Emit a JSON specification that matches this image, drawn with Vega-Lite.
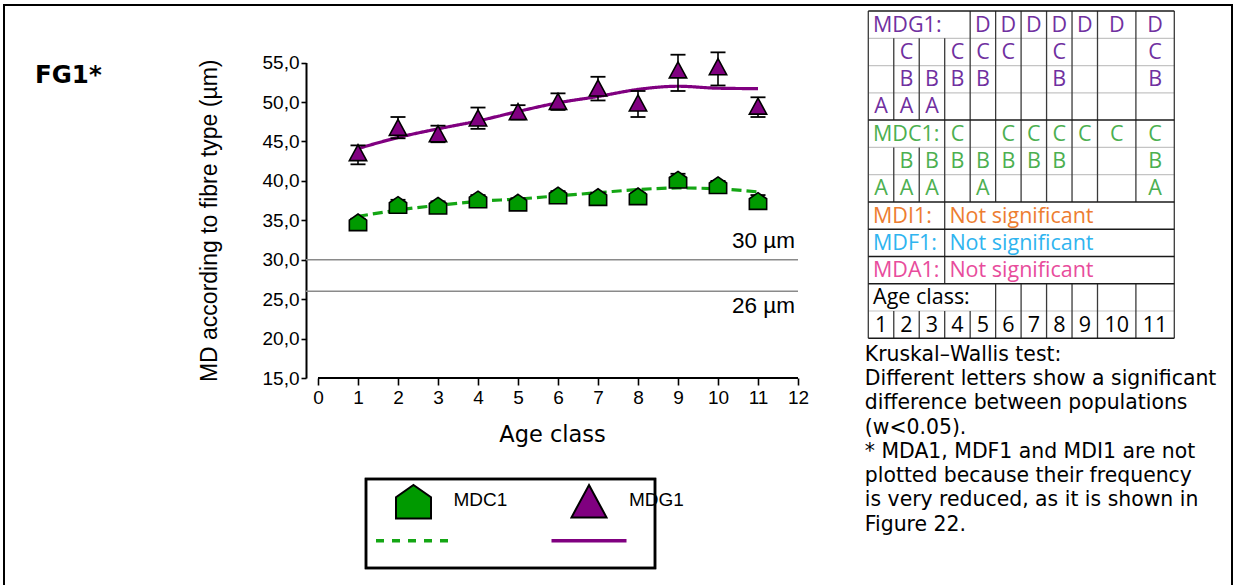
{
  "$schema": "https://vega.github.io/schema/vega-lite/v6.json",
  "width": 1228,
  "height": 582,
  "padding": {"left": 4, "top": 5, "right": 2, "bottom": 0},
  "autosize": {"type": "none"},
  "background": "white",
  "config": {
    "view": {"stroke": "black", "strokeWidth": 2},
    "font": "Liberation Sans",
    "axis": {"labelFont": "Liberation Sans", "titleFont": "Liberation Sans", "labelColor": "black", "titleColor": "black", "titleFontWeight": "normal", "grid": false}
  },
  "title": {
    "text": "FG1*",
    "anchor": "start",
    "frame": "group",
    "font": "DejaVu Sans",
    "fontWeight": "bold",
    "fontSize": 24.5,
    "color": "black",
    "baseline": "alphabetic",
    "offset": 0,
    "dx": 31,
    "dy": 102
  },
  "datasets": {
    "means": [
      {"sp": "MDG1", "age": 1, "md": 43.5, "lo": 42.1, "hi": 44.5},
      {"sp": "MDG1", "age": 2, "md": 46.7, "lo": 45.4, "hi": 48.1},
      {"sp": "MDG1", "age": 3, "md": 45.9, "lo": 44.9, "hi": 47.0},
      {"sp": "MDG1", "age": 4, "md": 47.9, "lo": 46.6, "hi": 49.3},
      {"sp": "MDG1", "age": 5, "md": 48.7, "lo": 47.8, "hi": 49.6},
      {"sp": "MDG1", "age": 6, "md": 50.0, "lo": 49.0, "hi": 51.1},
      {"sp": "MDG1", "age": 7, "md": 51.7, "lo": 50.2, "hi": 53.2},
      {"sp": "MDG1", "age": 8, "md": 49.8, "lo": 48.1, "hi": 51.4},
      {"sp": "MDG1", "age": 9, "md": 54.0, "lo": 51.4, "hi": 56.0},
      {"sp": "MDG1", "age": 10, "md": 54.4, "lo": 52.1, "hi": 56.3},
      {"sp": "MDG1", "age": 11, "md": 49.4, "lo": 48.1, "hi": 50.6},
      {"sp": "MDC1", "age": 1, "md": 34.7, "lo": 34.2, "hi": 35.2},
      {"sp": "MDC1", "age": 2, "md": 36.9, "lo": 36.3, "hi": 37.6},
      {"sp": "MDC1", "age": 3, "md": 36.8, "lo": 36.3, "hi": 37.4},
      {"sp": "MDC1", "age": 4, "md": 37.6, "lo": 37.0, "hi": 38.2},
      {"sp": "MDC1", "age": 5, "md": 37.2, "lo": 36.7, "hi": 37.8},
      {"sp": "MDC1", "age": 6, "md": 38.1, "lo": 37.5, "hi": 38.7},
      {"sp": "MDC1", "age": 7, "md": 37.9, "lo": 37.4, "hi": 38.5},
      {"sp": "MDC1", "age": 8, "md": 38.0, "lo": 37.5, "hi": 38.5},
      {"sp": "MDC1", "age": 9, "md": 40.1, "lo": 39.3, "hi": 40.9},
      {"sp": "MDC1", "age": 10, "md": 39.4, "lo": 38.8, "hi": 40.0},
      {"sp": "MDC1", "age": 11, "md": 37.4, "lo": 36.9, "hi": 38.2}
    ],
    "trend": [
      {"sp": "MDG1", "age": 1, "fit": 44.1},
      {"sp": "MDG1", "age": 2, "fit": 45.5},
      {"sp": "MDG1", "age": 3, "fit": 46.6},
      {"sp": "MDG1", "age": 4, "fit": 47.6},
      {"sp": "MDG1", "age": 5, "fit": 48.8},
      {"sp": "MDG1", "age": 6, "fit": 49.9},
      {"sp": "MDG1", "age": 7, "fit": 50.7},
      {"sp": "MDG1", "age": 8, "fit": 51.6},
      {"sp": "MDG1", "age": 9, "fit": 52.0},
      {"sp": "MDG1", "age": 10, "fit": 51.75},
      {"sp": "MDG1", "age": 11, "fit": 51.7},
      {"sp": "MDC1", "age": 1, "fit": 35.5},
      {"sp": "MDC1", "age": 2, "fit": 36.3},
      {"sp": "MDC1", "age": 3, "fit": 36.9},
      {"sp": "MDC1", "age": 4, "fit": 37.4},
      {"sp": "MDC1", "age": 5, "fit": 37.7},
      {"sp": "MDC1", "age": 6, "fit": 38.1},
      {"sp": "MDC1", "age": 7, "fit": 38.5},
      {"sp": "MDC1", "age": 8, "fit": 38.9},
      {"sp": "MDC1", "age": 9, "fit": 39.1},
      {"sp": "MDC1", "age": 10, "fit": 39.0},
      {"sp": "MDC1", "age": 11, "fit": 38.6}
    ],
    "limits": [
      {"v": 30, "label": "30 µm"},
      {"v": 26, "label": "26 µm"}
    ],
    "cells": [
      {"sp": "MDG1", "row": 1, "age": 5, "t": "D"},
      {"sp": "MDG1", "row": 1, "age": 6, "t": "D"},
      {"sp": "MDG1", "row": 1, "age": 7, "t": "D"},
      {"sp": "MDG1", "row": 1, "age": 8, "t": "D"},
      {"sp": "MDG1", "row": 1, "age": 9, "t": "D"},
      {"sp": "MDG1", "row": 1, "age": 10, "t": "D"},
      {"sp": "MDG1", "row": 1, "age": 11, "t": "D"},
      {"sp": "MDG1", "row": 2, "age": 2, "t": "C"},
      {"sp": "MDG1", "row": 2, "age": 4, "t": "C"},
      {"sp": "MDG1", "row": 2, "age": 5, "t": "C"},
      {"sp": "MDG1", "row": 2, "age": 6, "t": "C"},
      {"sp": "MDG1", "row": 2, "age": 8, "t": "C"},
      {"sp": "MDG1", "row": 2, "age": 11, "t": "C"},
      {"sp": "MDG1", "row": 3, "age": 2, "t": "B"},
      {"sp": "MDG1", "row": 3, "age": 3, "t": "B"},
      {"sp": "MDG1", "row": 3, "age": 4, "t": "B"},
      {"sp": "MDG1", "row": 3, "age": 5, "t": "B"},
      {"sp": "MDG1", "row": 3, "age": 8, "t": "B"},
      {"sp": "MDG1", "row": 3, "age": 11, "t": "B"},
      {"sp": "MDG1", "row": 4, "age": 1, "t": "A"},
      {"sp": "MDG1", "row": 4, "age": 2, "t": "A"},
      {"sp": "MDG1", "row": 4, "age": 3, "t": "A"},
      {"sp": "MDC1", "row": 5, "age": 4, "t": "C"},
      {"sp": "MDC1", "row": 5, "age": 6, "t": "C"},
      {"sp": "MDC1", "row": 5, "age": 7, "t": "C"},
      {"sp": "MDC1", "row": 5, "age": 8, "t": "C"},
      {"sp": "MDC1", "row": 5, "age": 9, "t": "C"},
      {"sp": "MDC1", "row": 5, "age": 10, "t": "C"},
      {"sp": "MDC1", "row": 5, "age": 11, "t": "C"},
      {"sp": "MDC1", "row": 6, "age": 2, "t": "B"},
      {"sp": "MDC1", "row": 6, "age": 3, "t": "B"},
      {"sp": "MDC1", "row": 6, "age": 4, "t": "B"},
      {"sp": "MDC1", "row": 6, "age": 5, "t": "B"},
      {"sp": "MDC1", "row": 6, "age": 6, "t": "B"},
      {"sp": "MDC1", "row": 6, "age": 7, "t": "B"},
      {"sp": "MDC1", "row": 6, "age": 8, "t": "B"},
      {"sp": "MDC1", "row": 6, "age": 11, "t": "B"},
      {"sp": "MDC1", "row": 7, "age": 1, "t": "A"},
      {"sp": "MDC1", "row": 7, "age": 2, "t": "A"},
      {"sp": "MDC1", "row": 7, "age": 3, "t": "A"},
      {"sp": "MDC1", "row": 7, "age": 5, "t": "A"},
      {"sp": "MDC1", "row": 7, "age": 11, "t": "A"},
      {"sp": "Age", "row": 12, "age": 1, "t": "1"},
      {"sp": "Age", "row": 12, "age": 2, "t": "2"},
      {"sp": "Age", "row": 12, "age": 3, "t": "3"},
      {"sp": "Age", "row": 12, "age": 4, "t": "4"},
      {"sp": "Age", "row": 12, "age": 5, "t": "5"},
      {"sp": "Age", "row": 12, "age": 6, "t": "6"},
      {"sp": "Age", "row": 12, "age": 7, "t": "7"},
      {"sp": "Age", "row": 12, "age": 8, "t": "8"},
      {"sp": "Age", "row": 12, "age": 9, "t": "9"},
      {"sp": "Age", "row": 12, "age": 10, "t": "10"},
      {"sp": "Age", "row": 12, "age": 11, "t": "11"}
    ],
    "rowLabels": [
      {"sp": "MDG1", "row": 1, "age": 1, "t": "MDG1:"},
      {"sp": "MDC1", "row": 5, "age": 1, "t": "MDC1:"},
      {"sp": "MDI1", "row": 8, "age": 1, "t": "MDI1:"},
      {"sp": "MDI1", "row": 8, "age": 4, "t": "Not significant"},
      {"sp": "MDF1", "row": 9, "age": 1, "t": "MDF1:"},
      {"sp": "MDF1", "row": 9, "age": 4, "t": "Not significant"},
      {"sp": "MDA1", "row": 10, "age": 1, "t": "MDA1:"},
      {"sp": "MDA1", "row": 10, "age": 4, "t": "Not significant"},
      {"sp": "Age", "row": 11, "age": 1, "t": "Age class:"}
    ],
    "vlines": [
      {"b": 0.5, "r1": 0.5, "r2": 12.5},
      {"b": 11.5, "r1": 0.5, "r2": 12.5},
      {"b": 1.5, "r1": 1.5, "r2": 4.5},
      {"b": 1.5, "r1": 5.5, "r2": 7.5},
      {"b": 1.5, "r1": 11.5, "r2": 12.5},
      {"b": 2.5, "r1": 1.5, "r2": 4.5},
      {"b": 2.5, "r1": 5.5, "r2": 7.5},
      {"b": 2.5, "r1": 11.5, "r2": 12.5},
      {"b": 3.5, "r1": 1.5, "r2": 10.5},
      {"b": 3.5, "r1": 11.5, "r2": 12.5},
      {"b": 4.5, "r1": 0.5, "r2": 7.5},
      {"b": 4.5, "r1": 11.5, "r2": 12.5},
      {"b": 5.5, "r1": 0.5, "r2": 7.5},
      {"b": 5.5, "r1": 10.5, "r2": 12.5},
      {"b": 6.5, "r1": 0.5, "r2": 7.5},
      {"b": 6.5, "r1": 10.5, "r2": 12.5},
      {"b": 7.5, "r1": 0.5, "r2": 7.5},
      {"b": 7.5, "r1": 10.5, "r2": 12.5},
      {"b": 8.5, "r1": 0.5, "r2": 7.5},
      {"b": 8.5, "r1": 10.5, "r2": 12.5},
      {"b": 9.5, "r1": 0.5, "r2": 7.5},
      {"b": 9.5, "r1": 10.5, "r2": 12.5},
      {"b": 10.5, "r1": 0.5, "r2": 7.5},
      {"b": 10.5, "r1": 10.5, "r2": 12.5}
    ],
    "hlines": [
      {"r": 0.5, "k": "major"},
      {"r": 4.5, "k": "major"},
      {"r": 7.5, "k": "major"},
      {"r": 8.5, "k": "major"},
      {"r": 9.5, "k": "major"},
      {"r": 10.5, "k": "major"},
      {"r": 12.5, "k": "major"},
      {"r": 1.5, "k": "minor"},
      {"r": 2.5, "k": "minor"},
      {"r": 3.5, "k": "minor"},
      {"r": 5.5, "k": "minor"},
      {"r": 6.5, "k": "minor"},
      {"r": 11.5, "k": "minor"}
    ],
    "keys": [
      {"sp": "MDC1"},
      {"sp": "MDG1"}
    ]
  },
  "layer": [
    {
      "layer": [
        {
          "data": {"name": "limits"},
          "mark": {"type": "rule", "color": "#8a8a8a", "strokeWidth": 1.6},
          "encoding": {
            "x": {"datum": -0.3, "type": "quantitative"},
            "x2": {"datum": 12},
            "y": {"field": "v", "type": "quantitative", "title": "MD according to fibre type (µm)"}
          }
        },
        {
          "data": {"name": "limits"},
          "transform": [{"filter": "datum.v == 30"}],
          "mark": {"type": "text", "align": "right", "baseline": "alphabetic", "dx": -3, "dy": -12, "font": "Liberation Sans", "fontSize": 22.5, "color": "black"},
          "encoding": {
            "x": {"datum": 12, "type": "quantitative"},
            "y": {"field": "v", "type": "quantitative", "title": "MD according to fibre type (µm)"},
            "text": {"field": "label"}
          }
        },
        {
          "data": {"name": "limits"},
          "transform": [{"filter": "datum.v == 26"}],
          "mark": {"type": "text", "align": "right", "baseline": "alphabetic", "dx": -3, "dy": 22, "font": "Liberation Sans", "fontSize": 22.5, "color": "black"},
          "encoding": {
            "x": {"datum": 12, "type": "quantitative"},
            "y": {"field": "v", "type": "quantitative", "title": "MD according to fibre type (µm)"},
            "text": {"field": "label"}
          }
        },
        {
          "data": {"name": "trend"},
          "mark": {"type": "line", "interpolate": "monotone", "strokeWidth": 3.2},
          "encoding": {
            "x": {"field": "age", "type": "quantitative", "title": "Age class"},
            "y": {"field": "fit", "type": "quantitative", "title": "MD according to fibre type (µm)"},
            "detail": {"field": "sp"},
            "stroke": {"field": "sp", "type": "nominal", "scale": {"domain": ["MDC1", "MDG1"], "range": ["#14a614", "#800080"]}, "legend": null},
            "strokeDash": {"field": "sp", "type": "nominal", "scale": {"domain": ["MDC1", "MDG1"], "range": [[10, 5], [1, 0]]}, "legend": null}
          }
        },
        {
          "data": {"name": "means"},
          "mark": {"type": "rule", "color": "black", "strokeWidth": 1.6},
          "encoding": {
            "x": {"field": "age", "type": "quantitative", "title": "Age class"},
            "y": {"field": "lo", "type": "quantitative", "title": "MD according to fibre type (µm)"},
            "y2": {"field": "hi"}
          }
        },
        {
          "data": {"name": "means"},
          "mark": {"type": "tick", "orient": "horizontal", "color": "black", "size": 15, "thickness": 1.8, "opacity": 1},
          "encoding": {
            "x": {"field": "age", "type": "quantitative", "title": "Age class"},
            "y": {"field": "lo", "type": "quantitative", "title": "MD according to fibre type (µm)"}
          }
        },
        {
          "data": {"name": "means"},
          "mark": {"type": "tick", "orient": "horizontal", "color": "black", "size": 15, "thickness": 1.8, "opacity": 1},
          "encoding": {
            "x": {"field": "age", "type": "quantitative", "title": "Age class"},
            "y": {"field": "hi", "type": "quantitative", "title": "MD according to fibre type (µm)"}
          }
        },
        {
          "data": {"name": "means"},
          "mark": {"type": "point", "filled": true, "opacity": 1, "stroke": "black", "strokeWidth": 1.6, "size": 300},
          "encoding": {
            "x": {
              "field": "age", "type": "quantitative", "title": "Age class",
              "scale": {"domain": [-0.3, 12], "range": [302, 794], "nice": false, "zero": false},
              "axis": {
                "orient": "bottom", "offset": -209, "values": [0, 1, 2, 3, 4, 5, 6, 7, 8, 9, 10, 11, 12],
                "format": "d", "labelOverlap": false, "labelFlush": false,
                "domain": false, "tickColor": "black", "tickWidth": 1.6, "tickSize": 7,
                "labelFontSize": 19, "labelPadding": 3,
                "titleFont": "DejaVu Sans", "titleFontSize": 22.5, "titlePadding": 16
              }
            },
            "y": {
              "field": "md", "type": "quantitative", "title": "MD according to fibre type (µm)",
              "scale": {"domain": [15, 55], "range": [373, 57.6], "nice": false, "zero": false},
              "axis": {
                "orient": "left", "offset": -302, "values": [15, 20, 25, 30, 35, 40, 45, 50, 55],
                "labelExpr": "replace(format(datum.value, '.1f'), '.', ',')",
                "labelOverlap": false, "labelFlush": false,
                "domainColor": "black", "domainWidth": 2, "tickColor": "black", "tickWidth": 1.6, "tickSize": 5,
                "labelFontSize": 19, "labelPadding": 2, "titleFontSize": 23, "titlePadding": 41
              }
            },
            "shape": {"field": "sp", "type": "nominal", "scale": {"domain": ["MDC1", "MDG1"], "range": ["M0,-1L1,-0.3L1,0.92L-1,0.92L-1,-0.3Z", "M0,-1L1,0.85L-1,0.85Z"]}, "legend": null},
            "fill": {"field": "sp", "type": "nominal", "scale": {"domain": ["MDC1", "MDG1"], "range": ["#009a00", "#800080"]}, "legend": null}
          }
        },
        {
          "data": {"values": [{"from": 0, "to": 12, "base": 15}]},
          "mark": {"type": "rule", "color": "black", "strokeWidth": 2},
          "encoding": {
            "x": {"field": "from", "type": "quantitative", "title": "Age class"},
            "x2": {"field": "to"},
            "y": {"field": "base", "type": "quantitative", "title": "MD according to fibre type (µm)"}
          }
        }
      ]
    },
    {
      "layer": [
        {
          "data": {"name": "hlines"},
          "transform": [{"filter": "datum.k == 'minor'"}],
          "mark": {"type": "rule", "color": "#c4c4c4", "strokeWidth": 1.2},
          "encoding": {
            "x": {"datum": 0.5, "type": "quantitative", "scale": {"domain": [0.5, 9.5, 11.5], "range": [864.3, 1093.5, 1170.3], "nice": false, "zero": false}, "axis": null},
            "x2": {"datum": 11.5},
            "y": {"field": "r", "type": "quantitative", "scale": {"domain": [0.5, 12.5], "range": [6, 333.3], "nice": false, "zero": false}, "axis": null}
          }
        },
        {
          "data": {"name": "vlines"},
          "mark": {"type": "rule", "color": "#3a3a3a", "strokeWidth": 1.3},
          "encoding": {
            "x": {"field": "b", "type": "quantitative", "axis": null},
            "y": {"field": "r1", "type": "quantitative", "axis": null},
            "y2": {"field": "r2"}
          }
        },
        {
          "data": {"name": "hlines"},
          "transform": [{"filter": "datum.k == 'major'"}],
          "mark": {"type": "rule", "color": "#1a1a1a", "strokeWidth": 1.5},
          "encoding": {
            "x": {"datum": 0.5, "type": "quantitative", "axis": null},
            "x2": {"datum": 11.5},
            "y": {"field": "r", "type": "quantitative", "axis": null}
          }
        },
        {
          "data": {"name": "cells"},
          "mark": {"type": "text", "align": "center", "baseline": "middle", "font": "Open Sans", "fontSize": 21.5, "dy": 1},
          "encoding": {
            "x": {"field": "age", "type": "quantitative", "axis": null},
            "y": {"field": "row", "type": "quantitative", "axis": null},
            "text": {"field": "t"},
            "color": {"field": "sp", "type": "nominal", "scale": {"domain": ["MDG1", "MDC1", "MDI1", "MDF1", "MDA1", "Age"], "range": ["#7030a0", "#4caf50", "#ed7d31", "#2fb4ef", "#e84c9c", "black"]}, "legend": null}
          }
        },
        {
          "data": {"name": "rowLabels"},
          "mark": {"type": "text", "align": "left", "baseline": "middle", "font": "Open Sans", "fontSize": 21.5, "dx": -8, "dy": 1},
          "encoding": {
            "x": {"field": "age", "type": "quantitative", "axis": null},
            "y": {"field": "row", "type": "quantitative", "axis": null},
            "text": {"field": "t"},
            "color": {"field": "sp", "type": "nominal", "legend": null}
          }
        },
        {
          "data": {"values": [{}]},
          "mark": {
            "type": "text", "align": "left", "baseline": "alphabetic", "font": "DejaVu Sans", "fontSize": 20.4,
            "lineHeight": 24.3, "dx": -3.5, "dy": 22.4, "color": "black",
            "text": [
              "Kruskal–Wallis test:",
              "Different letters show a significant",
              "difference between populations",
              "(w<0.05).",
              "* MDA1, MDF1 and MDI1 are not",
              "plotted because their frequency",
              "is very reduced, as it is shown in",
              "Figure 22."
            ]
          },
          "encoding": {
            "x": {"datum": 0.5, "type": "quantitative", "axis": null},
            "y": {"datum": 12.5, "type": "quantitative", "axis": null}
          }
        }
      ]
    },
    {
      "data": {"name": "keys"},
      "layer": [
        {
          "mark": {"type": "rect", "fill": null, "fillOpacity": 0, "stroke": "black", "strokeWidth": 2.5, "xOffset": -47.5, "x2Offset": 66, "yOffset": -23.5, "y2Offset": 27.3},
          "encoding": {
            "x": {"datum": "MDC1", "type": "nominal", "scale": {"type": "point", "domain": ["MDC1", "MDG1"], "range": [409.5, 585], "padding": 0}, "axis": null},
            "x2": {"datum": "MDG1"},
            "y": {"datum": "symbol", "type": "nominal", "scale": {"type": "point", "domain": ["symbol", "line"], "range": [497.5, 535.7], "padding": 0}, "axis": null},
            "y2": {"datum": "line"}
          }
        },
        {
          "mark": {"type": "point", "filled": true, "opacity": 1, "stroke": "black", "strokeWidth": 2, "size": 1225},
          "encoding": {
            "x": {"field": "sp", "type": "nominal", "axis": null},
            "y": {"datum": "symbol", "type": "nominal", "axis": null},
            "shape": {"field": "sp", "type": "nominal", "legend": null},
            "fill": {"field": "sp", "type": "nominal", "legend": null}
          }
        },
        {
          "mark": {"type": "text", "align": "left", "baseline": "middle", "font": "Liberation Sans", "fontSize": 19, "dx": 40, "dy": -3, "color": "black"},
          "encoding": {
            "x": {"field": "sp", "type": "nominal", "axis": null},
            "y": {"datum": "symbol", "type": "nominal", "axis": null},
            "text": {"field": "sp"}
          }
        },
        {
          "transform": [{"filter": "datum.sp == 'MDC1'"}],
          "mark": {"type": "point", "shape": "stroke", "filled": false, "opacity": 1, "color": "#14a614", "strokeWidth": 3.5, "size": 5625, "strokeDash": [8, 8]},
          "encoding": {
            "x": {"field": "sp", "type": "nominal", "axis": null},
            "y": {"datum": "line", "type": "nominal", "axis": null}
          }
        },
        {
          "transform": [{"filter": "datum.sp == 'MDG1'"}],
          "mark": {"type": "point", "shape": "stroke", "filled": false, "opacity": 1, "color": "#800080", "strokeWidth": 3.5, "size": 5625},
          "encoding": {
            "x": {"field": "sp", "type": "nominal", "axis": null},
            "y": {"datum": "line", "type": "nominal", "axis": null}
          }
        }
      ]
    }
  ],
  "resolve": {"scale": {"x": "independent", "y": "independent"}, "axis": {"x": "independent", "y": "independent"}}
}
